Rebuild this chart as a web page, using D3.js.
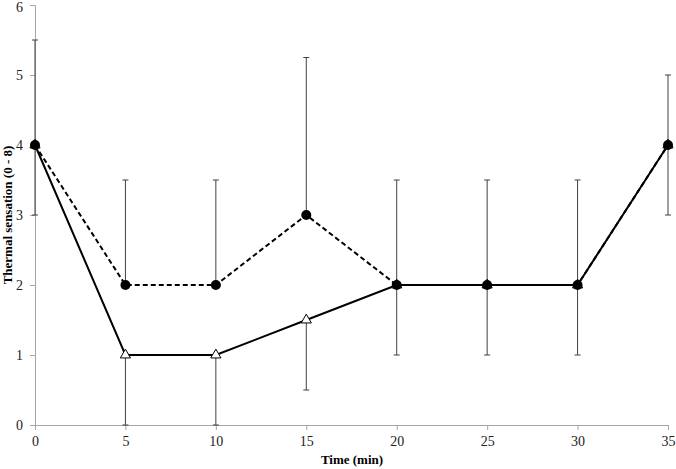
<!DOCTYPE html>
<html><head><meta charset="utf-8">
<script src="https://cdn.jsdelivr.net/npm/d3@7"></script>
<style>body{margin:0;background:#fff}svg{display:block}
text{font-family:"Liberation Serif","DejaVu Serif",serif;}</style>
</head><body>
<svg id="c" width="676" height="469"></svg>
<script>
const times = [0, 5, 10, 15, 20, 25, 30, 35];
const circleValues = [4, 2, 2, 3, 2, 2, 2, 4];
const circleErrPlus = [1.5, 1.5, 1.5, 2.25, 1.5, 1.5, 1.5, 1];
const triangleValues = [4, 1, 1, 1.5, 2, 2, 2, 4];
const triangleErrMinus = [1, 1, 1, 1, 1, 1, 1, 1];
const xTicks = [0, 5, 10, 15, 20, 25, 30, 35];
const yTicks = [0, 1, 2, 3, 4, 5, 6];

const svg = d3.select("#c");
const x = d3.scaleLinear().domain([0, 35]).range([35, 668]);
const y = d3.scaleLinear().domain([0, 6]).range([425, 5]);
const font = "Liberation Serif, DejaVu Serif, serif";
const axisColor = "#a6a6a6";

// axes
const xAxis = svg.append("g").attr("transform", "translate(0,425)")
  .call(d3.axisBottom(x).tickValues(xTicks).tickFormat(d3.format("d")).tickSize(5).tickPadding(6));
const yAxis = svg.append("g").attr("transform", "translate(35,0)")
  .call(d3.axisLeft(y).tickValues(yTicks).tickFormat(d3.format("d")).tickSize(5).tickPadding(7));
[xAxis, yAxis].forEach(a => {
  a.attr("font-family", font);
  a.select(".domain").attr("stroke", axisColor);
  a.selectAll(".tick line").attr("stroke", axisColor);
  a.selectAll(".tick text").style("font-family", font).attr("font-size", 14).attr("fill", "#222");
});
yAxis.selectAll(".tick text").filter(d => d === 6).attr("dy", "0.45em");

// error bars
const ebColor = "#404040";
function errBar(xv, y1, y2) {
  const g = svg.append("g").attr("stroke", ebColor).attr("stroke-width", 1);
  g.append("line").attr("x1", x(xv)).attr("x2", x(xv)).attr("y1", y(y1)).attr("y2", y(y2));
  g.append("line").attr("x1", x(xv) - 3).attr("x2", x(xv) + 3).attr("y1", y(y2)).attr("y2", y(y2));
}
times.forEach((t, i) => {
  errBar(t, circleValues[i], circleValues[i] + circleErrPlus[i]);
  errBar(t, triangleValues[i], triangleValues[i] - triangleErrMinus[i]);
});

const line = d3.line().x(d => x(d[0])).y(d => y(d[1]));
svg.append("path").datum(times.map((t, i) => [t, circleValues[i]]))
  .attr("d", line).attr("fill", "none").attr("stroke", "#000").attr("stroke-width", 2)
  .attr("stroke-dasharray", "5,3");
svg.append("path").datum(times.map((t, i) => [t, triangleValues[i]]))
  .attr("d", line).attr("fill", "none").attr("stroke", "#000").attr("stroke-width", 2);

// markers
svg.selectAll(".tri").data(times).enter().append("path")
  .attr("transform", (t, i) => `translate(${x(t)},${y(triangleValues[i])})`)
  .attr("d", d3.symbol(d3.symbolTriangle, 45)())
  .attr("fill", "#fff").attr("stroke", "#000").attr("stroke-width", 1);
svg.selectAll(".cir").data(times).enter().append("circle")
  .attr("cx", t => x(t)).attr("cy", (t, i) => y(circleValues[i])).attr("r", 5)
  .attr("fill", "#000");

// titles
svg.append("text").attr("x", 352).attr("y", 464).attr("text-anchor", "middle")
  .style("font-family", font).attr("font-size", 13).attr("font-weight", "bold").text("Time (min)");
svg.append("text").attr("transform", "translate(12,215) rotate(-90)").attr("text-anchor", "middle")
  .style("font-family", font).attr("font-size", 13).attr("font-weight", "bold").text("Thermal sensation (0 - 8)");
</script>
</body></html>
